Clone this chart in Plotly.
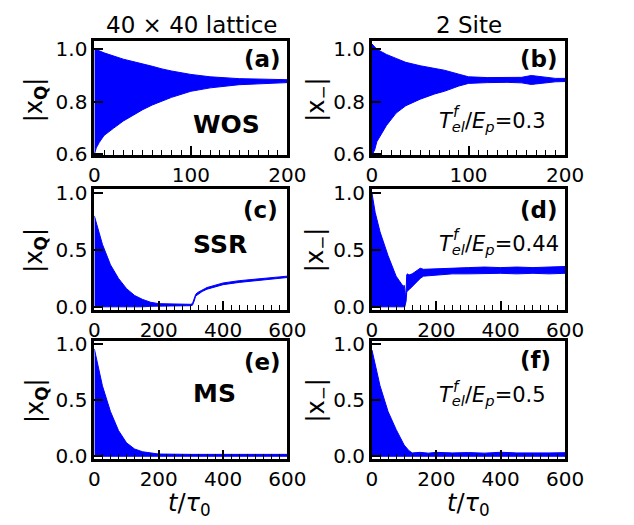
import plotly.graph_objects as go

# ---------------- data (envelopes) ----------------
# (a) 40x40 lattice, WOS
a_t  = [0, 2, 5, 10, 20, 30, 40, 50, 60, 70, 80, 100, 120, 150, 175, 200]
a_up = [1.0, 0.998, 0.994, 0.986, 0.973, 0.962, 0.953, 0.945, 0.935, 0.925, 0.917, 0.904, 0.895, 0.888, 0.885, 0.884]
a_lo = [0.60, 0.625, 0.645, 0.672, 0.70, 0.727, 0.75, 0.77, 0.788, 0.803, 0.817, 0.840, 0.853, 0.865, 0.870, 0.873]

# (b) 2 site, T/Ep = 0.3
b_t  = [0, 3, 5, 10, 15, 25, 35, 50, 65, 75, 90, 100, 120, 140, 155, 165, 175, 190, 200]
b_up = [1.02, 1.01, 1.0, 0.99, 0.98, 0.965, 0.95, 0.937, 0.927, 0.92, 0.905, 0.895, 0.892, 0.891, 0.893, 0.90, 0.895, 0.889, 0.889]
b_lo = [0.595, 0.62, 0.648, 0.68, 0.71, 0.757, 0.785, 0.81, 0.83, 0.84, 0.86, 0.87, 0.873, 0.874, 0.872, 0.866, 0.870, 0.876, 0.877]

# (c) 40x40 lattice, SSR
c_t  = [0, 10, 25, 50, 75, 100, 125, 150, 175, 200, 250, 300, 305, 310, 315, 320, 335, 350, 375, 400, 450, 500, 550, 600]
c_up = [0.80, 0.70, 0.55, 0.37, 0.25, 0.16, 0.10, 0.065, 0.04, 0.028, 0.022, 0.022, 0.03, 0.07, 0.11, 0.125, 0.15, 0.17, 0.19, 0.21, 0.23, 0.245, 0.257, 0.27]
c_lo = [0.0, 0.0, 0.0, 0.0, 0.0, 0.0, 0.0, 0.0, 0.005, 0.008, 0.01, 0.01, 0.015, 0.05, 0.095, 0.11, 0.135, 0.155, 0.175, 0.195, 0.215, 0.232, 0.245, 0.258]

# (d) 2 site, T/Ep = 0.44
d_t  = [0, 5, 10, 25, 50, 75, 90, 97, 100, 102, 104, 106, 108, 110, 115, 125, 140, 150, 160, 200, 250, 300, 350, 400, 450, 500, 550, 600]
d_up = [1.0, 0.90, 0.83, 0.66, 0.45, 0.27, 0.20, 0.18, 0.19, 0.16, 0.08, 0.14, 0.28, 0.29, 0.28, 0.29, 0.32, 0.34, 0.33, 0.335, 0.345, 0.345, 0.35, 0.345, 0.35, 0.345, 0.35, 0.355]
d_lo = [0.0, 0.0, 0.0, 0.0, 0.0, 0.0, 0.0, 0.0, 0.0, 0.0, 0.0, 0.05, 0.13, 0.14, 0.15, 0.18, 0.22, 0.25, 0.27, 0.28, 0.29, 0.29, 0.29, 0.295, 0.29, 0.295, 0.29, 0.295]

# (e) 40x40 lattice, MS
e_t  = [0, 10, 25, 50, 75, 100, 125, 150, 175, 200, 300, 600]
e_up = [0.96, 0.83, 0.63, 0.40, 0.23, 0.12, 0.065, 0.04, 0.028, 0.02, 0.017, 0.017]
e_lo = [0.0, 0.0, 0.0, 0.0, 0.0, 0.0, 0.0, 0.0, 0.0, 0.0, 0.0, 0.0]

# (f) 2 site, T/Ep = 0.5
f_t  = [0, 10, 25, 50, 75, 100, 115, 125, 150, 175, 200, 250, 300, 350, 400, 450, 500, 550, 600]
f_up = [0.95, 0.83, 0.63, 0.40, 0.24, 0.10, 0.05, 0.03, 0.035, 0.028, 0.035, 0.03, 0.033, 0.028, 0.036, 0.03, 0.033, 0.03, 0.032]
f_lo = [0.0] * 19

col_titles = ["40 \u00d7 40 lattice", "2 Site"]
panel_letters = ["(a)", "(b)", "(c)", "(d)", "(e)", "(f)"]
phase_labels = ["WOS", "SSR", "MS"]
ratio_values = ["0.3", "0.44", "0.5"]
x_ticks_top = [0, 100, 200]
x_ticks_low = [0, 200, 400, 600]
y_ticks_top = [0.6, 0.8, 1.0]
y_ticks_low = [0.0, 0.5, 1.0]

panels = [(a_t, a_up, a_lo), (b_t, b_up, b_lo), (c_t, c_up, c_lo),
          (d_t, d_up, d_lo), (e_t, e_up, e_lo), (f_t, f_up, f_lo)]

W, H = 634, 525
FONT = "DejaVu Sans"

# geometry (pixels -> paper fractions)
col_px = [(92, 293), (381, 582)]
row_px = [(34, 153), (188, 313), (345, 468)]

def px_x(x):
    return x / W

def px_y(y):
    return 1 - y / H

fig = go.Figure()
layout_axes = {}
for i, (t, up, lo) in enumerate(panels):
    r, c = divmod(i, 2)
    n = i + 1
    xa = "x" if n == 1 else f"x{n}"
    ya = "y" if n == 1 else f"y{n}"
    fig.add_trace(go.Scatter(
        x=list(t) + list(t)[::-1], y=list(up) + list(lo)[::-1],
        fill="toself", fillcolor="blue", mode="lines",
        line=dict(color="blue", width=1), xaxis=xa, yaxis=ya,
        hoverinfo="skip", showlegend=False))
    common = dict(showline=True, linewidth=3, linecolor="black", mirror=True,
                  ticks="inside", ticklen=9, tickwidth=1.5, tickcolor="black",
                  showgrid=False, zeroline=False,
                  tickfont=dict(family=FONT, size=20, color="black"))
    if r == 0:
        xax = dict(common, range=[0, 200], tickvals=x_ticks_top,
                   minor=dict(ticks="inside", ticklen=5, tickwidth=1, tickcolor="black", dtick=10, tick0=0))
        yax = dict(common, range=[0.596, 1.032], tickvals=y_ticks_top, tickformat=".1f")
    else:
        xax = dict(common, range=[0, 600], tickvals=x_ticks_low,
                   minor=dict(ticks="inside", ticklen=5, tickwidth=1, tickcolor="black", dtick=25, tick0=0))
        yax = dict(common, range=[-0.025, 1.035], tickvals=y_ticks_low, tickformat=".1f")
    xax["domain"] = [px_x(col_px[c][0]), px_x(col_px[c][1])]
    yax["domain"] = [px_y(row_px[r][1]), px_y(row_px[r][0])]
    xax["anchor"] = ya
    yax["anchor"] = xa
    layout_axes["xaxis" if n == 1 else f"xaxis{n}"] = xax
    layout_axes["yaxis" if n == 1 else f"yaxis{n}"] = yax

fig.update_layout(**layout_axes)

ann = []
def add(text, x, y, size, bold=False, angle=0, xanchor="center"):
    ann.append(dict(text=f"<b>{text}</b>" if bold else text, x=px_x(x), y=px_y(y),
                    xref="paper", yref="paper", showarrow=False, textangle=angle,
                    xanchor=xanchor, yanchor="middle",
                    font=dict(family=FONT, size=size, color="black")))

# column titles
add(col_titles[0], 193, 18, 23)
add(col_titles[1], 482, 18, 23)

# y-axis titles
row_mid = [95, 251, 407]
for r in range(3):
    add("|x<sub><b>Q</b></sub>|", 31, row_mid[r], 24, angle=-90)
    add("|x<sub>\u2212</sub>|", 324, row_mid[r], 24, angle=-90)

# x-axis titles
add("<i>t</i>/<i>\u03c4</i><sub>0</sub>", 191, 515, 24)
add("<i>t</i>/<i>\u03c4</i><sub>0</sub>", 481, 515, 24)

# panel letters
letter_pos = [(267, 53), (555, 53), (265, 210), (555, 210), (267, 367), (551, 365)]
for lab, (x, y) in zip(panel_letters, letter_pos):
    add(lab, x, y, 23, bold=True)

# phase labels
for lab, (x, y) in zip(phase_labels, [(230, 121), (223, 245), (217, 400)]):
    add(lab, x, y, 25, bold=True)

# ratio labels (superscript f stacked above the "el" subscript)
for val, y in zip(ratio_values, [118, 246, 403]):
    add(f"<i>T</i><sub><i>el</i></sub>/<i>E</i><sub><i>p</i></sub>={val}", 449, y, 21, xanchor="left")
    add("<i>f</i>", 463, y - 10, 15, xanchor="left")

fig.update_layout(annotations=ann, width=W, height=H,
                  margin=dict(l=0, r=0, t=0, b=0),
                  paper_bgcolor="white", plot_bgcolor="white",
                  font=dict(family=FONT, color="black"))

fig.write_html("out.html")
